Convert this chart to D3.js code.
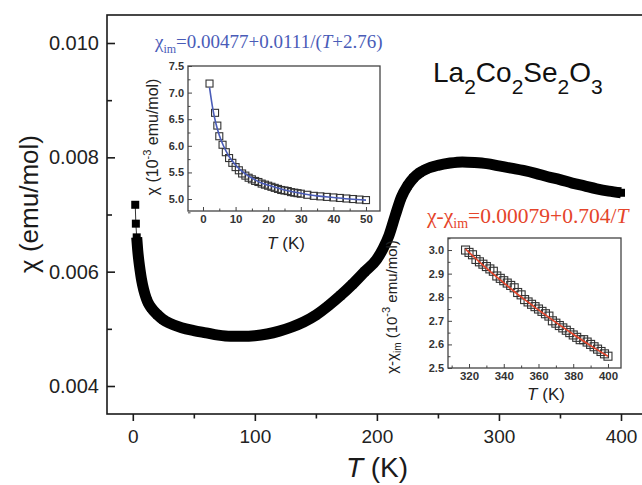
<!DOCTYPE html>
<html><head><meta charset="utf-8">
<script src="https://cdn.jsdelivr.net/npm/d3@7"></script>
<style>body{margin:0;background:#fff}svg{display:block}</style>
</head><body>
<script>
// Magnetic susceptibility of La2Co2Se2O3, chi in emu/mol versus T in K
const mainT   = [2, 2.5, 3.2, 4, 5, 6, 7, 8, 10, 12, 15, 20, 25, 30, 40, 50, 60, 70, 80, 90, 100, 110, 120, 130, 140, 150, 160, 170, 180, 190, 200, 205, 210, 215, 220, 225, 230, 235, 240, 250, 260, 270, 280, 290, 300, 310, 320, 330, 340, 350, 360, 370, 380, 390, 400];
const mainChi = [0.00717, 0.00684, 0.00660, 0.00638, 0.00618, 0.00602, 0.00588, 0.00577, 0.00560, 0.00548, 0.00537, 0.00525, 0.00516, 0.00510, 0.00502, 0.00497, 0.00493, 0.00489, 0.00487, 0.00487, 0.00488, 0.00491, 0.00496, 0.00503, 0.00512, 0.00524, 0.00540, 0.00558, 0.00578, 0.00600, 0.00622, 0.00640, 0.00664, 0.00698, 0.00730, 0.00750, 0.00764, 0.00773, 0.00779, 0.00786, 0.00790, 0.00792, 0.00791, 0.00789, 0.00785, 0.00781, 0.00777, 0.00772, 0.00766, 0.00761, 0.00755, 0.00750, 0.00745, 0.00741, 0.00738];
const mainXTicks = [0, 100, 200, 300, 400];
const mainXMinor = [50, 150, 250, 350];
const mainYTicks = [0.004, 0.006, 0.008, 0.010];
const mainYMinor = [0.005, 0.007, 0.009];

// Low-temperature detail, chi in 1e-3 emu/mol
const lowT   = [2.0, 3.7, 4.4, 5.0, 6.0, 7.0, 8.0, 9.0, 10, 11, 12, 13, 14, 15, 16, 17, 18, 19, 20, 21, 22, 23, 24, 25, 26, 27, 28, 29, 30, 32, 34, 36, 38, 40, 42, 44, 46, 48, 50];
const lowChi = [7.17, 6.62, 6.38, 6.18, 6.02, 5.88, 5.77, 5.68, 5.60, 5.54, 5.48, 5.44, 5.40, 5.37, 5.34, 5.32, 5.29, 5.27, 5.25, 5.23, 5.21, 5.19, 5.17, 5.16, 5.15, 5.13, 5.12, 5.11, 5.10, 5.08, 5.06, 5.05, 5.04, 5.03, 5.02, 5.01, 5.00, 4.99, 4.98];
// Curie-Weiss fit: 0.00477 + 0.0111/(T+2.76)
const lowFitT   = [2, 3, 4, 5, 6, 7, 8, 10, 12, 14, 16, 18, 20, 25, 30, 35, 40, 45, 50];
const lowFitChi = [7.10, 6.70, 6.41, 6.20, 6.04, 5.91, 5.80, 5.64, 5.52, 5.43, 5.36, 5.30, 5.26, 5.17, 5.11, 5.06, 5.03, 5.00, 4.98];
const lowXTicks = [0, 10, 20, 30, 40, 50];
const lowXMinor = [5, 15, 25, 35, 45];
const lowYTicks = [5.0, 5.5, 6.0, 6.5, 7.0, 7.5];
const lowYMinor = [4.75, 5.25, 5.75, 6.25, 6.75, 7.25];

// High-temperature detail, chi - chi_im in 1e-3 emu/mol
const highT   = [318, 320, 322, 324, 326, 328, 330, 332, 334, 336, 338, 340, 342, 344, 346, 348, 350, 352, 354, 356, 358, 360, 362, 364, 366, 368, 370, 372, 374, 376, 378, 380, 382, 384, 386, 388, 390, 392, 394, 396, 398, 400];
const highChi = [3.00, 2.99, 2.98, 2.96, 2.95, 2.94, 2.93, 2.92, 2.91, 2.89, 2.88, 2.87, 2.86, 2.85, 2.84, 2.82, 2.81, 2.79, 2.78, 2.77, 2.76, 2.75, 2.74, 2.73, 2.72, 2.70, 2.69, 2.68, 2.67, 2.66, 2.65, 2.64, 2.63, 2.62, 2.62, 2.61, 2.60, 2.59, 2.58, 2.57, 2.56, 2.55];
// Curie fit: 0.00079 + 0.704/T
const highFitT   = [318, 330, 340, 350, 360, 370, 380, 390, 400];
const highFitChi = [3.004, 2.923, 2.861, 2.801, 2.746, 2.693, 2.643, 2.595, 2.550];
const highXTicks = [320, 340, 360, 380, 400];
const highXMinor = [310, 330, 350, 370, 390];
const highYTicks = [2.5, 2.6, 2.7, 2.8, 2.9, 3.0];
const highYMinor = [2.55, 2.65, 2.75, 2.85, 2.95, 3.05];

const W = 642, H = 485;
const SANS = "'Liberation Sans', Arial, Helvetica, sans-serif";
const NARROW = "'Liberation Sans Narrow', 'Liberation Sans', Arial, sans-serif";
const SERIF = "'Liberation Serif', 'Times New Roman', serif";
const BLUE = "#4a5cb8", RED = "#e5452b";

const svg = d3.select("body").append("svg").attr("width", W).attr("height", H)
  .style("font-family", SANS);

// ---------- main panel ----------
const x = d3.scaleLinear().domain([0, 400]).range([132.8, 621]);
const y = d3.scaleLinear().domain([0.004, 0.010]).range([386, 43]);
const frame = { left: 107, top: 15, right: 646, bottom: 414 };

svg.append("rect").attr("x", frame.left).attr("y", frame.top)
  .attr("width", frame.right - frame.left).attr("height", frame.bottom - frame.top)
  .attr("fill", "none").attr("stroke", "#1a1a1a").attr("stroke-width", 1.6);

const gy = svg.append("g").attr("transform", `translate(${frame.left},0)`)
  .call(d3.axisLeft(y).tickValues(mainYTicks).tickSize(-8).tickPadding(8).tickFormat(d3.format(".3f")));
svg.append("g").attr("transform", `translate(${frame.left},0)`)
  .call(d3.axisLeft(y).tickValues(mainYMinor).tickSize(-5).tickFormat(""));
const gx = svg.append("g").attr("transform", `translate(0,${frame.bottom})`)
  .call(d3.axisBottom(x).tickValues(mainXTicks).tickSize(7).tickPadding(9));
svg.append("g").attr("transform", `translate(0,${frame.bottom})`)
  .call(d3.axisBottom(x).tickValues(mainXMinor).tickSize(4.5).tickFormat(""));
svg.selectAll(".domain").remove();
svg.selectAll(".tick line").attr("stroke", "#1a1a1a").attr("stroke-width", 1.6);
gy.selectAll("text").attr("font-size", 20).attr("fill", "#222").style("font-family", SANS);
gx.selectAll("text").attr("font-size", 19).attr("fill", "#222").style("font-family", SANS);

svg.append("text").attr("transform", "translate(38,204) rotate(-90)")
  .attr("text-anchor", "middle").attr("font-size", 26).attr("fill", "#1a1a1a")
  .text("χ (emu/mol)");
const xl = svg.append("text").attr("x", 377).attr("y", 477).attr("text-anchor", "middle")
  .attr("font-size", 28).attr("fill", "#1a1a1a");
xl.append("tspan").attr("font-style", "italic").text("T");
xl.append("tspan").text(" (K)");

const mainPts = mainT.map((t, i) => [t, mainChi[i]]);
const line = d3.line().x(d => x(d[0])).y(d => y(d[1]));
svg.append("path").datum(mainPts.slice(0, 3)).attr("d", line)
  .attr("fill", "none").attr("stroke", "#333").attr("stroke-width", 1);
svg.append("path").datum(mainPts.slice(2)).attr("d", line.curve(d3.curveMonotoneX))
  .attr("fill", "none").attr("stroke", "#000").attr("stroke-width", 11).attr("stroke-linejoin", "round");
svg.append("g").selectAll("rect").data(mainPts).join("rect")
  .attr("x", d => x(d[0]) - 4).attr("y", d => y(d[1]) - 4)
  .attr("width", 8).attr("height", 8).attr("fill", "#000");

// compound formula
const title = svg.append("text").attr("x", 433).attr("y", 82).attr("font-size", 28).attr("fill", "#111");
[["La", "2"], ["Co", "2"], ["Se", "2"], ["O", "3"]].forEach(([el, n], i) => {
  title.append("tspan").attr("dy", i === 0 ? 0 : -12).text(el);
  title.append("tspan").attr("font-size", 21).attr("dy", 12).text(n);
});

// ---------- inset builder ----------
function inset(o) {
  const g = svg.append("g");
  const ix = d3.scaleLinear().domain(o.xd).range([o.x0, o.x1]);
  const iy = d3.scaleLinear().domain(o.yd).range([o.y1, o.y0]);
  g.append("rect").attr("x", o.x0).attr("y", o.y0).attr("width", o.x1 - o.x0).attr("height", o.y1 - o.y0)
    .attr("fill", "#fff").attr("stroke", "#444").attr("stroke-width", 1.3);
  const ax = g.append("g").attr("transform", `translate(0,${o.y1})`)
    .call(d3.axisBottom(ix).tickValues(o.xt).tickSize(-4).tickPadding(4));
  g.append("g").attr("transform", `translate(0,${o.y1})`)
    .call(d3.axisBottom(ix).tickValues(o.xm).tickSize(-2.5).tickFormat(""));
  const ay = g.append("g").attr("transform", `translate(${o.x0},0)`)
    .call(d3.axisLeft(iy).tickValues(o.yt).tickSize(-4).tickPadding(4).tickFormat(d3.format(".1f")));
  g.append("g").attr("transform", `translate(${o.x0},0)`)
    .call(d3.axisLeft(iy).tickValues(o.ym).tickSize(-2.5).tickFormat(""));
  g.selectAll(".domain").remove();
  g.selectAll(".tick line").attr("stroke", "#444").attr("stroke-width", 1);
  g.selectAll(".tick text").attr("fill", "#333").attr("font-weight", "bold").style("font-family", NARROW);
  ax.selectAll("text").attr("font-size", 11.5);
  ay.selectAll("text").attr("font-size", 11);

  const pts = o.t.map((t, i) => [t, o.v[i]]);
  g.append("g").selectAll("rect").data(pts).join("rect")
    .attr("x", d => ix(d[0]) - o.sq / 2).attr("y", d => iy(d[1]) - o.sq / 2)
    .attr("width", o.sq).attr("height", o.sq).attr("fill", "none").attr("stroke", "#333").attr("stroke-width", 1.1);
  const fit = o.ft.map((t, i) => [t, o.fv[i]]);
  g.append("path").datum(fit)
    .attr("d", d3.line().x(d => ix(d[0])).y(d => iy(d[1])).curve(d3.curveMonotoneX))
    .attr("fill", "none").attr("stroke", o.color).attr("stroke-width", 1.6);

  const tl = g.append("text").attr("x", o.xlab[0]).attr("y", o.xlab[1]).attr("text-anchor", "middle")
    .attr("font-size", 17).attr("fill", "#222");
  tl.append("tspan").attr("font-style", "italic").text("T");
  tl.append("tspan").text(" (K)");

  const yl = g.append("text").attr("transform", `translate(${o.ylab[0]},${o.ylab[1]}) rotate(-90)`)
    .attr("text-anchor", "middle").attr("font-size", o.ylabSize).attr("fill", "#222");
  yl.append("tspan").text("χ");
  if (o.diff) {
    yl.append("tspan").text("-χ");
    yl.append("tspan").attr("font-size", 10).attr("dy", 4).text("im");
    yl.append("tspan").attr("dy", -4).text(" (10");
  } else {
    yl.append("tspan").text(" (10");
  }
  yl.append("tspan").attr("font-size", 11).attr("dy", -7).text("-3");
  yl.append("tspan").attr("dy", 7).text(" emu/mol)");
}

inset({ x0: 188, x1: 380, y0: 66, y1: 211, xd: [-4.6, 54.3], yd: [4.775, 7.5],
  xt: lowXTicks, xm: lowXMinor, yt: lowYTicks, ym: lowYMinor,
  t: lowT, v: lowChi, ft: lowFitT, fv: lowFitChi, color: BLUE, sq: 7,
  xlab: [286, 249], ylab: [158, 137], ylabSize: 16, diff: false });

inset({ x0: 448, x1: 621, y0: 238, y1: 368, xd: [307.9, 407.5], yd: [2.5, 3.051],
  xt: highXTicks, xm: highXMinor, yt: highYTicks, ym: highYMinor,
  t: highT, v: highChi, ft: highFitT, fv: highFitChi, color: RED, sq: 8,
  xlab: [546, 400], ylab: [397, 307], ylabSize: 15, diff: true });

// fit equations
const f1 = svg.append("text").attr("x", 155).attr("y", 48).attr("font-size", 19)
  .attr("fill", BLUE).style("font-family", SERIF);
f1.append("tspan").text("χ");
f1.append("tspan").attr("font-size", 12).attr("dy", 5).text("im");
f1.append("tspan").attr("dy", -5).text("=0.00477+0.0111/(");
f1.append("tspan").attr("font-style", "italic").text("T");
f1.append("tspan").text("+2.76)");

const f2 = svg.append("text").attr("x", 427).attr("y", 223).attr("font-size", 21.5)
  .attr("fill", RED).style("font-family", SERIF);
f2.append("tspan").text("χ-χ");
f2.append("tspan").attr("font-size", 14).attr("dy", 5).text("im");
f2.append("tspan").attr("dy", -5).text("=0.00079+0.704/");
f2.append("tspan").attr("font-style", "italic").text("T");
</script>
</body></html>
